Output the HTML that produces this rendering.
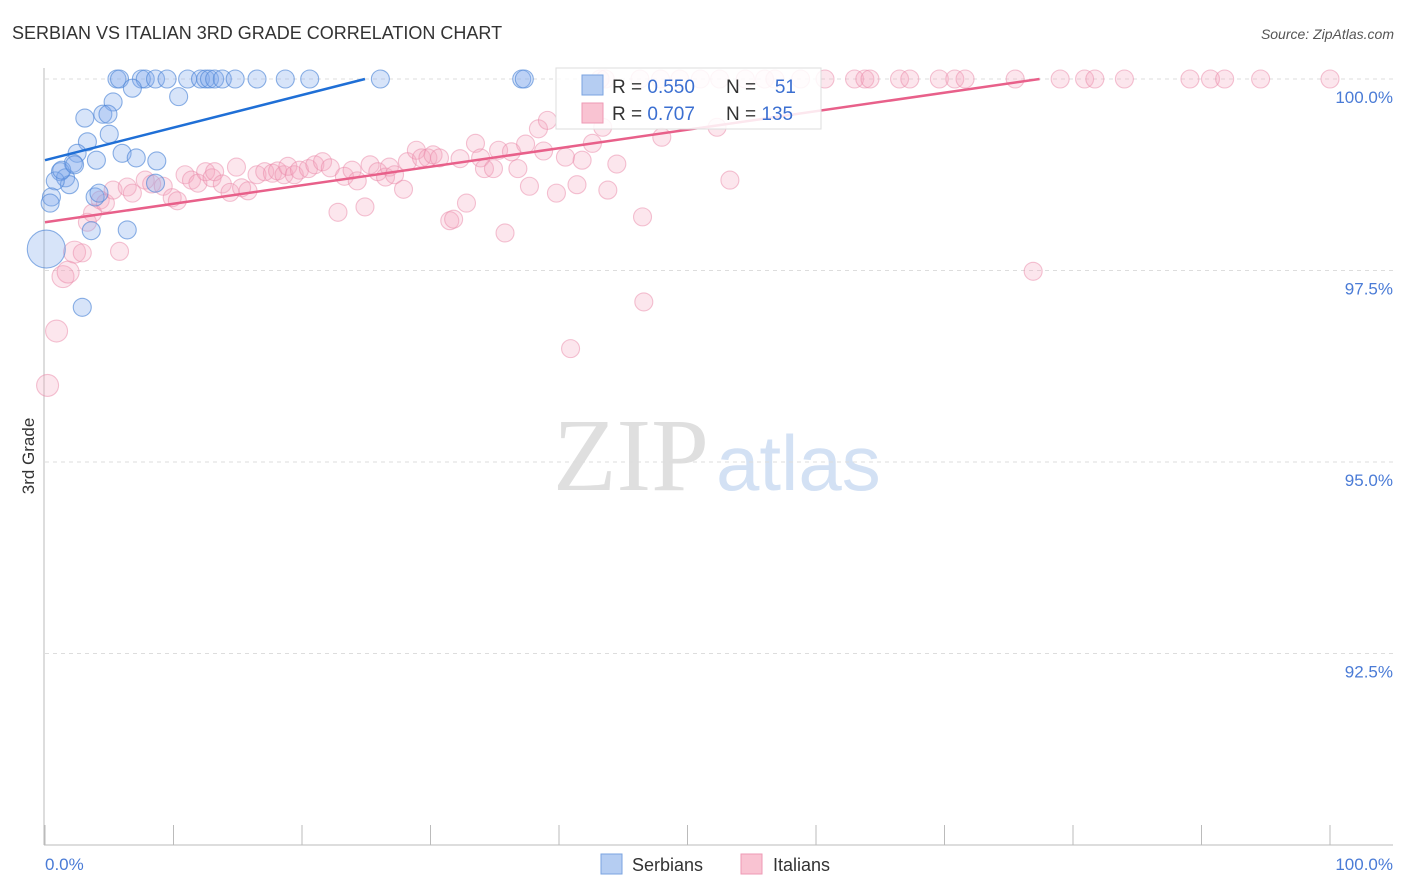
<!DOCTYPE html>
<html><head><meta charset="utf-8"><style>
body{margin:0;background:#fff;}
svg{display:block;font-family:"Liberation Sans",sans-serif;}
</style></head><body>
<svg id="chart" width="1406" height="892" xmlns="http://www.w3.org/2000/svg">
<text x="12" y="39" font-size="18" fill="#333">SERBIAN VS ITALIAN 3RD GRADE CORRELATION CHART</text>
<text x="1394" y="39" font-size="14" fill="#555" font-style="italic" text-anchor="end">Source: ZipAtlas.com</text>
<g>
<text x="553" y="490" font-family="Liberation Serif,serif" font-size="104" fill="#d8d8d8" opacity="0.8">ZIP</text>
<text x="716" y="490" font-size="78" fill="#c9daf2" opacity="0.8">atlas</text>
</g>
<g id="grid"></g>
<g id="axes"></g>
<text transform="translate(34,456) rotate(-90)" font-size="17" fill="#333" text-anchor="middle">3rd Grade</text>
<g id="pink"></g>
<g id="blue"></g>
<g id="trends"></g>
<g>
<rect x="556" y="68" width="265" height="61" fill="#fff" fill-opacity="0.85" stroke="#ddd"/>
<rect x="582" y="75" width="21" height="20" fill="#b5cdf2" stroke="#7aa3e0"/>
<rect x="582" y="103" width="21" height="20" fill="#f9c3d2" stroke="#ee9ab4"/>
<text x="612" y="93" font-size="19" fill="#333">R = <tspan fill="#3b6fd1">0.550</tspan></text>
<text x="726" y="93" font-size="19" fill="#333">N = </text><text x="796" y="93" font-size="19" fill="#3b6fd1" text-anchor="end">51</text>
<text x="612" y="120" font-size="19" fill="#333">R = <tspan fill="#3b6fd1">0.707</tspan></text>
<text x="726" y="120" font-size="19" fill="#333">N = <tspan fill="#3b6fd1">135</tspan></text>
</g>
<g>
<rect x="601" y="854" width="21" height="20" fill="#b5cdf2" stroke="#7aa3e0"/>
<text x="632" y="871" font-size="18" fill="#333">Serbians</text>
<rect x="741" y="854" width="21" height="20" fill="#f9c3d2" stroke="#ee9ab4"/>
<text x="773" y="871" font-size="18" fill="#333">Italians</text>
</g>
</svg>
<script>
const blueX=[5.6,5.8,7.5,7.8,8.6,9.5,11.1,12.1,12.5,12.8,13.2,13.8,14.8,16.5,18.7,20.6,26.1,37.1,37.3,6.8,10.4,5.3,3.1,4.5,4.9,5.0,3.3,6.0,7.1,8.7,4.0,2.5,2.2,1.2,1.6,1.9,0.8,0.5,0.4,3.9,4.2,8.6,3.6,6.4,2.9,0.1,1.3,2.3];
const blueY=[100,100,100,100,100,100,100,100,100,100,100,100,100,100,100,100,100,100,100,99.88,99.77,99.70,99.49,99.54,99.54,99.28,99.18,99.03,98.97,98.93,98.94,99.03,98.90,98.79,98.71,98.62,98.67,98.46,98.38,98.46,98.51,98.64,98.02,98.03,97.02,97.78,98.81,98.88];
const blueR=[9,9,9,9,9,9,9,9,9,9,9,9,9,9,9,9,9,9,9,9,9,9,9,9,9,9,9,9,9,9,9,9,9,9,9,9,9,9,9,9,9,9,9,9,9,19,9,9];
const pinkX=[0.2,0.9,1.4,1.8,2.3,2.9,5.8,3.3,3.7,4.3,4.7,5.3,6.4,6.8,7.8,8.3,9.2,9.9,10.3,10.9,11.4,11.9,12.5,13.0,13.2,13.8,14.4,14.9,15.3,15.8,16.5,17.1,17.7,18.1,18.6,18.9,19.4,19.8,20.5,21.0,21.6,22.2,22.8,23.3,23.9,24.3,24.9,25.3,25.9,26.5,26.8,27.2,27.9,28.2,28.9,29.3,29.8,30.2,30.7,31.5,31.8,32.3,32.8,33.5,33.9,34.2,34.9,35.3,35.8,36.3,36.8,37.4,37.7,38.4,38.8,39.1,39.8,40.5,40.9,41.4,41.8,42.6,43.4,43.8,44.5,46.5,46.6,48.0,52.3,53.3,76.9,
43.2,43.6,46.3,47.9,49.4,51.0,52.5,54.5,56.0,56.8,58.8,60.7,63.0,63.8,64.2,66.5,67.3,69.6,70.8,71.6,75.5,79.0,80.9,81.7,84.0,89.1,90.7,91.8,94.6,100];
const pinkY=[96.00,96.71,97.42,97.48,97.74,97.73,97.75,98.13,98.25,98.42,98.38,98.55,98.59,98.51,98.68,98.63,98.60,98.45,98.41,98.75,98.68,98.64,98.79,98.71,98.79,98.63,98.52,98.85,98.58,98.54,98.75,98.79,98.77,98.80,98.75,98.86,98.75,98.81,98.83,98.88,98.92,98.84,98.26,98.73,98.81,98.67,98.33,98.88,98.79,98.72,98.85,98.75,98.56,98.92,99.07,98.97,98.97,99.01,98.97,98.15,98.17,98.96,98.38,99.16,98.97,98.83,98.83,99.07,97.99,99.05,98.83,99.15,98.60,99.35,99.06,99.46,98.51,98.98,96.48,98.62,98.94,99.16,99.37,98.55,98.89,98.20,97.09,99.24,99.37,98.68,97.49,
100,100,100,100,100,100,100,100,100,100,100,100,100,100,100,100,100,100,100,100,100,100,100,100,100,100,100,100,100,100];
const blueTrend=[0,98.94,24.9,100];
const pinkTrend=[0,98.13,77.4,100];
const yTicks=[100,97.5,95,92.5];
const yTickLabels=["100.0%","97.5%","95.0%","92.5%"];
const xTickLabels=["0.0%","100.0%"];

const NS="http://www.w3.org/2000/svg";
const X0=45,X1=1330;
function xs(v){return X0+(v/100)*(X1-X0);}
function ys(v){return 79+(100-v)/2.5*191.5;}
function mk(tag,attrs,parent){const e=document.createElementNS(NS,tag);for(const k in attrs)e.setAttribute(k,attrs[k]);parent.appendChild(e);return e;}
const grid=document.getElementById('grid'),axes=document.getElementById('axes');
yTicks.forEach((t,i)=>{
  const l=mk('line',{x1:45,x2:1393,y1:ys(t),y2:ys(t),stroke:'#ddd','stroke-dasharray':'4,4'},grid);
  
  
  const tx=mk('text',{x:1393,y:ys(t)+24,'font-size':17,fill:'#4a7bd6','text-anchor':'end'},axes);
  tx.textContent=yTickLabels[i];
  
  
});
const xa=mk('line',{x1:44,x2:1393,y1:845,y2:845,stroke:'#bbb'},axes);


const ya=mk('line',{x1:44,x2:44,y1:68,y2:845,stroke:'#bbb'},axes);


for(let i=0;i<=10;i++){
  const t=mk('line',{x1:xs(i*10),x2:xs(i*10),y1:825,y2:845,stroke:'#bbb'},axes);
  
  
}
const xl0=mk('text',{x:45,y:870,'font-size':17,fill:'#4a7bd6'},axes);
xl0.textContent=xTickLabels[0];


const xl1=mk('text',{x:1393,y:870,'font-size':17,fill:'#4a7bd6','text-anchor':'end'},axes);
xl1.textContent=xTickLabels[1];


const pg=document.getElementById('pink');
pinkX.forEach((x,i)=>{
  const c=mk('circle',{cx:xs(x),cy:ys(pinkY[i]),r:(i<5?11:9),fill:'rgba(246,165,190,0.28)',stroke:'rgba(234,135,168,0.5)','stroke-width':1.1},pg);
  
  
});
const bg=document.getElementById('blue');
blueX.forEach((x,i)=>{
  const c=mk('circle',{cx:xs(x),cy:ys(blueY[i]),r:blueR[i],fill:'rgba(130,172,235,0.32)',stroke:'rgba(80,135,215,0.65)','stroke-width':1.1},bg);
  
  
});
const tg=document.getElementById('trends');
const bt=mk('line',{x1:xs(blueTrend[0]),y1:ys(blueTrend[1]),x2:xs(blueTrend[2]),y2:ys(blueTrend[3]),stroke:'#1f6fd6','stroke-width':2.5},tg);


const pt=mk('line',{x1:xs(pinkTrend[0]),y1:ys(pinkTrend[1]),x2:xs(pinkTrend[2]),y2:ys(pinkTrend[3]),stroke:'#e8608a','stroke-width':2.5},tg);


</script>
</body></html>
